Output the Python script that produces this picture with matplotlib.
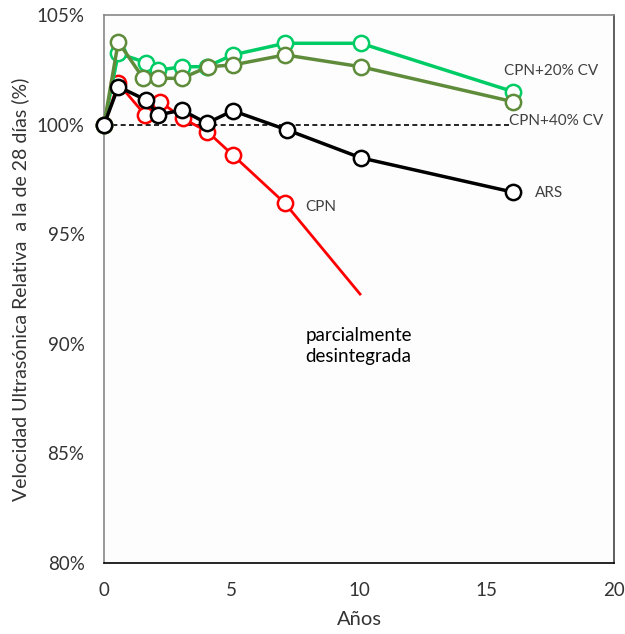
import matplotlib.pyplot as plt
from matplotlib.ticker import FuncFormatter

plt.rcParams['font.family'] = ['Lato', 'DejaVu Sans']

# datos (años, velocidad relativa %)
x_cpn = [0, 0.56, 1.61, 2.2, 3.09, 4.05, 5.05, 7.1]
y_cpn = [100, 101.9, 100.46, 101.07, 100.3, 99.7, 98.63, 96.42]
x_cpn_fin = [7.1, 10.04]
y_cpn_fin = [96.42, 92.28]

x_ars = [0, 0.56, 1.65, 2.13, 3.05, 4.03, 5.05, 7.19, 10.07, 16.05]
y_ars = [100, 101.75, 101.14, 100.46, 100.68, 100.08, 100.65, 99.77, 98.5, 96.93]

x_cv20 = [0, 0.56, 1.65, 2.13, 3.05, 4.03, 5.05, 7.1, 10.07, 16.05]
y_cv20 = [100, 103.27, 102.85, 102.5, 102.66, 102.66, 103.2, 103.73, 103.73, 101.52]

x_cv40 = [0, 0.56, 1.54, 2.13, 3.05, 4.09, 5.05, 7.1, 10.07, 16.05]
y_cv40 = [100, 103.8, 102.13, 102.13, 102.13, 102.66, 102.74, 103.2, 102.66, 101.06]

fig = plt.figure(figsize=(6.25, 6.34), dpi=100)
ax = fig.add_axes([0.1664, 0.112, 0.8160, 0.8636])
ax.set_facecolor('#fdfdfd')

ax.plot([0, 16], [100, 100], ls='--', color='black', lw=1.2, dashes=(3, 2), zorder=1)

mk = dict(marker='o', markersize=11, markerfacecolor='white', markeredgewidth=1.8,
          clip_on=False)
ax.plot(x_cpn_fin, y_cpn_fin, color='#ff0000', lw=2, zorder=2)
ax.plot(x_cpn, y_cpn, color='#ff0000', lw=2, markeredgecolor='#ff0000', zorder=3, **mk)
ax.plot(x_cv20, y_cv20, color='#00cc66', lw=2.5, markeredgecolor='#00cc66', zorder=4, **mk)
ax.plot(x_cv40, y_cv40, color='#5e8c3a', lw=2.5, markeredgecolor='#5e8c3a', zorder=5, **mk)
ax.plot(x_ars, y_ars, color='black', lw=2.5, markeredgecolor='black', zorder=6, **mk)

ax.set_xlim(0, 20)
ax.set_ylim(80, 105)
ax.set_xticks([0, 5, 10, 15, 20])
ax.set_yticks([80, 85, 90, 95, 100, 105])
ax.yaxis.set_major_formatter(FuncFormatter(lambda v, p: f'{v:.0f}%'))
ax.tick_params(length=0, labelsize=13.5, colors='#333333')
ax.tick_params(axis='y', pad=14)
ax.tick_params(axis='x', pad=14)

for s in ['left', 'top']:
    ax.spines[s].set_color('#888888')
ax.spines['right'].set_color('#444444')
ax.spines['bottom'].set_color('black')
for s in ax.spines.values():
    s.set_linewidth(1.2)

ax.set_xlabel('Años', fontsize=14.5, color='#333333', labelpad=8)
ax.set_ylabel('Velocidad Ultrasónica Relativa  a la de 28 días (%)', fontsize=14,
              color='#333333', labelpad=5)

tc = '#404040'
ax.text(15.7, 102.45, 'CPN+20% CV', fontsize=11, color=tc, va='center')
ax.text(15.9, 100.2, 'CPN+40% CV', fontsize=11, color=tc, va='center')
ax.text(16.9, 96.9, 'ARS', fontsize=11, color=tc, va='center')
ax.text(7.9, 96.25, 'CPN', fontsize=11, color=tc, va='center')
ax.text(7.9, 89.9, 'parcialmente\ndesintegrada', fontsize=13.5, color='black',
        va='center', linespacing=1.25)

fig.savefig('out.png', dpi=100)
